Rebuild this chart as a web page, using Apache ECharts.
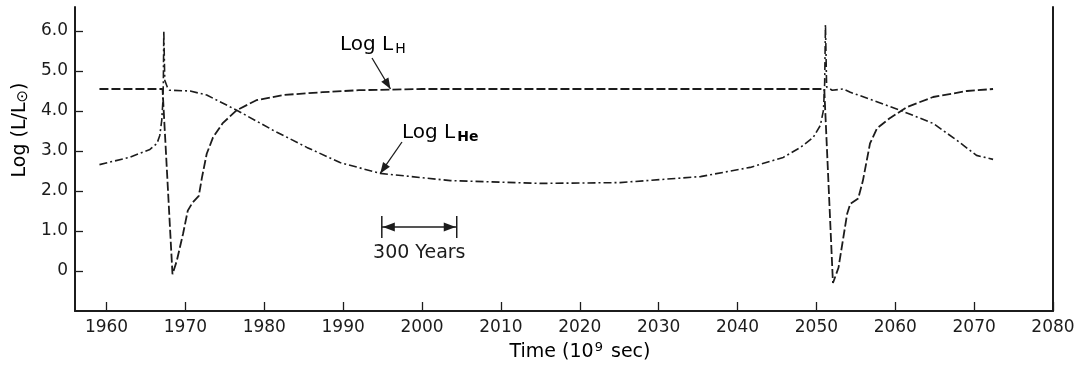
<!DOCTYPE html>
<html>
<head>
<meta charset="utf-8">
<script src="https://cdn.jsdelivr.net/npm/echarts@6/dist/echarts.min.js"></script>
<style>html,body{margin:0;padding:0;background:#fff}#c{width:1081px;height:367px}</style>
</head>
<body>
<div id="c"></div>
<script>
// Log L_H (dashed)
var hTime = [1959.1, 1967.1, 1968.36, 1968.9, 1969.7, 1970.3, 1970.9, 1971.7, 1972.1, 1972.7, 1973.5, 1974.7, 1976.5, 1979.0, 1982.4, 1987.4, 1992.0, 2000.0, 2051.0, 2052.1, 2052.8, 2053.9, 2054.3, 2055.3, 2055.9, 2056.8, 2057.7, 2059.3, 2061.5, 2064.8, 2069.1, 2072.4];
var hLog  = [4.55, 4.55, -0.08, 0.25, 0.93, 1.51, 1.71, 1.88, 2.34, 2.93, 3.34, 3.69, 4.02, 4.27, 4.40, 4.47, 4.52, 4.55, 4.55, -0.30, 0.08, 1.43, 1.68, 1.81, 2.26, 3.19, 3.57, 3.82, 4.10, 4.35, 4.50, 4.55];
// Log L_He (dash-dot)
var heTime = [1959.1, 1962.9, 1965.5, 1966.4, 1966.75, 1967.0, 1967.13, 1967.2, 1967.26, 1967.38, 1967.7, 1968.0, 1970.6, 1972.7, 1976.5, 1981.1, 1985.4, 1989.6, 1994.7, 2003.6, 2015.0, 2025.1, 2035.3, 2041.6, 2045.8, 2048.0, 2049.6, 2050.5, 2050.9, 2051.05, 2051.15, 2051.3, 2052.0, 2053.4, 2054.3, 2060.6, 2064.8, 2067.8, 2070.3, 2072.4];
var heLog  = [2.66, 2.84, 3.04, 3.19, 3.39, 3.77, 4.20, 4.70, 6.00, 4.77, 4.60, 4.52, 4.50, 4.40, 4.02, 3.52, 3.09, 2.71, 2.44, 2.26, 2.19, 2.21, 2.36, 2.59, 2.84, 3.09, 3.34, 3.64, 4.02, 4.70, 6.16, 4.60, 4.52, 4.55, 4.47, 4.02, 3.69, 3.27, 2.89, 2.79];
// ticks
var xTicks = [1960, 1970, 1980, 1990, 2000, 2010, 2020, 2030, 2040, 2050, 2060, 2070, 2080];
var yTicks = [0, 1, 2, 3, 4, 5, 6];
// 300-year scale bar (in time units)
var barStart = 1994.9, barEnd = 2004.4;

function zip(a, b) { return a.map(function (v, i) { return [v, b[i]]; }); }

var INK = '#1c1c1c';
var FONT = 'DejaVu Sans';

var chart = echarts.init(document.getElementById('c'));

var option = {
  backgroundColor: '#fff',
  animation: false,
  grid: { left: 75, right: 28, top: 7, bottom: 56 },
  xAxis: {
    type: 'value', min: 1956, max: 2080,
    axisLine: { show: true, onZero: false, lineStyle: { color: INK, width: 2 } },
    axisTick: { show: true, inside: true, length: 9, customValues: xTicks, lineStyle: { color: INK, width: 1.3 } },
    axisLabel: { customValues: xTicks, color: INK, fontFamily: FONT, fontSize: 17, margin: 8,
      formatter: function (v) { return String(v); } },
    splitLine: { show: false }
  },
  yAxis: [{
    type: 'value', min: -1, max: 6.6,
    axisLine: { show: true, onZero: false, lineStyle: { color: INK, width: 2 } },
    axisTick: { show: true, inside: true, length: 8, customValues: yTicks, lineStyle: { color: INK, width: 1.3 } },
    axisLabel: { customValues: yTicks, color: INK, fontFamily: FONT, fontSize: 17, margin: 7,
      formatter: function (v) { return v === 0 ? '0' : v.toFixed(1); } },
    splitLine: { show: false }
  }, {
    type: 'value', min: -1, max: 6.6, position: 'right',
    axisLine: { show: true, onZero: false, lineStyle: { color: INK, width: 2 } },
    axisTick: { show: false }, axisLabel: { show: false }, splitLine: { show: false }
  }],
  series: [{
    name: 'Log L_H', type: 'line', data: zip(hTime, hLog), showSymbol: false,
    lineStyle: { color: INK, width: 1.8, type: [9, 3] }
  }, {
    name: 'Log L_He', type: 'line', data: zip(heTime, heLog), showSymbol: false,
    lineStyle: { color: INK, width: 1.6, type: [8, 3, 2, 3] }
  }]
};
chart.setOption(option);

function px(x, y) { return chart.convertToPixel({ gridIndex: 0 }, [x, y]); }
function arrow(x1, y1, x2, y2, size) {
  var dx = x2 - x1, dy = y2 - y1, L = Math.sqrt(dx * dx + dy * dy);
  var ux = dx / L, uy = dy / L, w = size * 0.38;
  var bx = x2 - ux * size, by = y2 - uy * size;
  return [[x2, y2], [bx - uy * w, by + ux * w], [bx + uy * w, by - ux * w]];
}

var tH = px(1996.0, 4.55);
var tHe = px(1994.7, 2.44);
var b1 = px(barStart, 0), b2 = px(barEnd, 0);
var barY = 227;

var rich = {
  a: { fontFamily: FONT, fontSize: 20, color: INK },
  ax: { fontFamily: FONT, fontSize: 19, color: INK },
  s: { fontFamily: FONT, fontSize: 14, color: INK, padding: [9, 0, 0, 2] },
  sb: { fontFamily: FONT, fontSize: 14, fontWeight: 'bold', color: INK, padding: [9, 0, 0, 2] },
  sup: { fontFamily: FONT, fontSize: 13, color: INK, padding: [0, 2, 9, 1] },
  o: { fontFamily: FONT, fontSize: 15, color: INK, padding: [7, 0, 0, 0] }
};

chart.setOption({
  graphic: [
    // axis titles
    { type: 'text', x: 580, y: 352, style: { text: '{ax|Time (10}{sup|9}{ax| sec)}', rich: rich, align: 'center', verticalAlign: 'middle' } },
    { type: 'text', x: 20, y: 130, rotation: Math.PI / 2, style: { text: '{ax|Log (L/L}{o|⊙}{ax|)}', rich: rich, align: 'center', verticalAlign: 'middle' } },
    // Log L_H label + arrow
    { type: 'text', x: 340, y: 45, style: { text: '{a|Log L}{s|H}', rich: rich, align: 'left', verticalAlign: 'middle' } },
    { type: 'line', shape: { x1: 372, y1: 58, x2: tH[0], y2: tH[1] }, style: { stroke: INK, lineWidth: 1.3 } },
    { type: 'polygon', shape: { points: arrow(372, 58, tH[0], tH[1], 11) }, style: { fill: INK } },
    // Log L_He label + arrow
    { type: 'text', x: 402, y: 133, style: { text: '{a|Log L}{sb|He}', rich: rich, align: 'left', verticalAlign: 'middle' } },
    { type: 'line', shape: { x1: 402, y1: 142, x2: tHe[0], y2: tHe[1] }, style: { stroke: INK, lineWidth: 1.3 } },
    { type: 'polygon', shape: { points: arrow(402, 142, tHe[0], tHe[1], 11) }, style: { fill: INK } },
    // 300 years bar
    { type: 'line', shape: { x1: b1[0], y1: 216, x2: b1[0], y2: 238 }, style: { stroke: INK, lineWidth: 1.5 } },
    { type: 'line', shape: { x1: b2[0], y1: 216, x2: b2[0], y2: 238 }, style: { stroke: INK, lineWidth: 1.5 } },
    { type: 'line', shape: { x1: b1[0], y1: barY, x2: b2[0], y2: barY }, style: { stroke: INK, lineWidth: 1.3 } },
    { type: 'polygon', shape: { points: arrow(b1[0] + 20, barY, b1[0] + 1, barY, 12) }, style: { fill: INK } },
    { type: 'polygon', shape: { points: arrow(b2[0] - 20, barY, b2[0] - 1, barY, 12) }, style: { fill: INK } },
    { type: 'text', x: (b1[0] + b2[0]) / 2, y: 253, style: { text: '300 Years', font: '19px "DejaVu Sans"', fill: INK, align: 'center', verticalAlign: 'middle' } }
  ]
});
</script>
</body>
</html>
